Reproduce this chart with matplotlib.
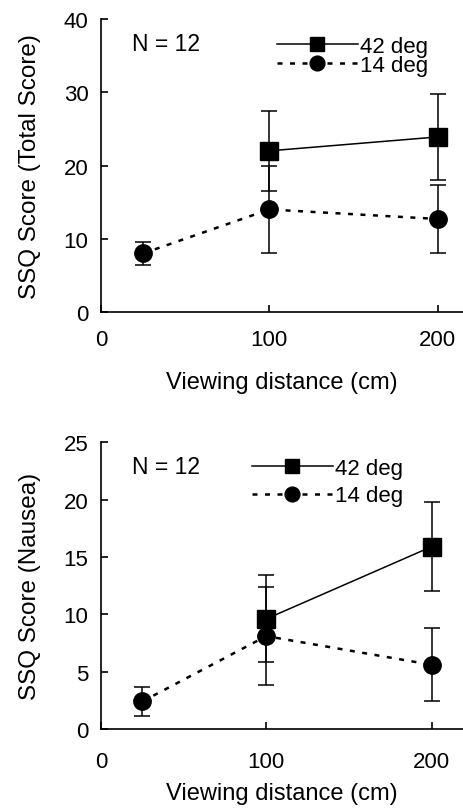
import matplotlib.pyplot as plt

plt.rcParams["font.family"] = ["Liberation Sans", "DejaVu Sans"]

# viewing distances (cm)
dist_42 = [100, 200]
dist_14 = [25, 100, 200]

# top panel: total score
total_42 = [22.0, 23.9]
total_42_err = [5.5, 5.9]
total_14 = [8.0, 14.0, 12.7]
total_14_err = [1.6, 6.0, 4.7]

# bottom panel: nausea
nausea_42 = [9.6, 15.9]
nausea_42_err = [3.8, 3.9]
nausea_14 = [2.4, 8.1, 5.6]
nausea_14_err = [1.3, 4.3, 3.2]

x_ticks = [0, 100, 200]

fig = plt.figure(figsize=(4.63, 8.12), dpi=100)
ax1 = fig.add_axes([0.218, 0.6145, 0.782, 0.3609])
ax2 = fig.add_axes([0.218, 0.101, 0.782, 0.353])


def draw_panel(ax, y42, e42, y14, e14, xmax, ymax, ystep, ylabel,
               xpad, xlab_y, spacing, leg_anchor):
    ax.errorbar(dist_42, y42, yerr=e42, color="black", lw=1.1, marker="s",
                ms=12.5, capsize=5.5, elinewidth=1.1, capthick=1.1, label="42 deg")
    ax.errorbar(dist_14, y14, yerr=e14, color="black", lw=1.8, ls=(0, (2.0, 3.0)),
                marker="o", ms=12.5, capsize=5.5, elinewidth=1.1, capthick=1.1,
                label="14 deg")
    ax.set_xlim(0, xmax)
    ax.set_ylim(0, ymax)
    ax.set_xticks(x_ticks)
    ax.set_yticks(range(0, ymax + 1, ystep))
    for s in ["top", "right"]:
        ax.spines[s].set_visible(False)
    for s in ["left", "bottom"]:
        ax.spines[s].set_linewidth(1.2)
    ax.tick_params(axis="both", direction="in", length=5, width=1.2,
                   labelsize=16, colors="black")
    ax.tick_params(axis="x", pad=xpad)
    ax.tick_params(axis="y", pad=9)
    ax.set_xlabel("Viewing distance (cm)", fontsize=17, va="center")
    ax.xaxis.set_label_coords(0.5, xlab_y)
    ax.set_ylabel(ylabel, fontsize=17.5)
    ax.yaxis.set_label_coords(-0.165, 0.5)
    ax.text(0.086, 0.916, "N = 12", transform=ax.transAxes, fontsize=16.5,
            ha="left", va="center")
    h, l = ax.get_legend_handles_labels()
    h = [x[0] for x in h]
    ax.legend(h, l, loc="upper left", bbox_to_anchor=leg_anchor, frameon=False,
              fontsize=16, handlelength=3.65, handletextpad=0.1, markerscale=0.85,
              labelspacing=spacing, borderpad=0, borderaxespad=0)


draw_panel(ax1, total_42, total_42_err, total_14, total_14_err,
           215, 40, 10, "SSQ Score (Total Score)", 12, -0.24, -0.07, (0.486, 0.943))
draw_panel(ax2, nausea_42, nausea_42_err, nausea_14, nausea_14_err,
           219, 25, 5, "SSQ Score (Nausea)", 16, -0.225, 0.28, (0.417, 0.945))

fig.savefig("out.png", dpi=100)
